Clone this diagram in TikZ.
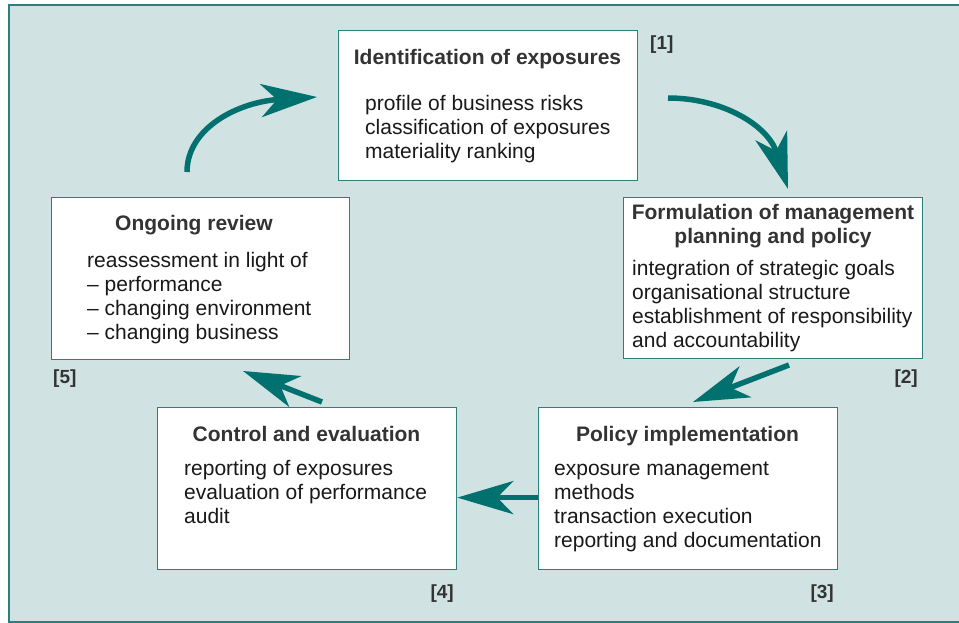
\documentclass[tikz,border=0pt]{standalone}
\usepackage{fontspec}
\setmainfont{Liberation Sans}
\usetikzlibrary{arrows.meta}
\definecolor{bgfill}{HTML}{D0E2E2}
\definecolor{tealarr}{HTML}{00716F}
\definecolor{tealline}{HTML}{2A807C}
\definecolor{txtgray}{HTML}{333333}
\tikzset{
  box/.style={draw=tealline, line width=1.2pt, fill=white, anchor=north west, inner sep=0pt, minimum width=299pt},
  boxtitle/.style={font=\fontsize{21}{24}\selectfont\bfseries, text=txtgray, align=center, anchor=base, inner sep=0pt},
  boxbody/.style={font=\fontsize{21}{24}\selectfont, text=black!90, align=left, anchor=north west, inner sep=0pt},
  tag/.style={font=\fontsize{19}{24}\selectfont\bfseries, text=txtgray, inner sep=0pt},
  flow/.style={->, draw=tealarr, line width=5.5pt},
}
\begin{document}
\begin{tikzpicture}[x=1pt, y=-1pt, >={Stealth[length=56pt, width=33pt, inset=16pt]}]
  \useasboundingbox (0,0) rectangle (959,623);
  \draw[tealline, line width=1.6pt, fill=bgfill] (9,5) rectangle (965,622);
  % the five stages
  \node[box, minimum height=150pt] (ident) at (338,30) {};
  \node[box, minimum height=161pt] (form) at (623,197) {};
  \node[box, minimum height=162pt] (impl) at (538,407) {};
  \node[box, minimum height=162pt] (ctrl) at (157,407) {};
  \node[box, minimum height=162pt, minimum width=298pt] (review) at (51,197) {};
  \node[boxtitle] (identT) at (487.5,65) {Identification of exposures};
  \node[boxbody] (identB) at (365,93.2) {\strut profile of business risks\\classification of exposures\\materiality ranking};
  \node[boxtitle, anchor=north] (formT) at (773,202.2) {\strut Formulation of management\\planning and policy};
  \node[boxbody] (formB) at (632,258.2) {\strut integration of strategic goals\\organisational structure\\establishment of responsibility\\and accountability};
  \node[boxtitle] (implT) at (687.5,441) {Policy implementation};
  \node[boxbody] (implB) at (554,458.2) {\strut exposure management\\methods\\transaction execution\\reporting and documentation};
  \node[boxtitle] (ctrlT) at (306.5,441) {Control and evaluation};
  \node[boxbody] (ctrlB) at (184,458.2) {\strut reporting of exposures\\evaluation of performance\\audit};
  \node[boxtitle] (reviewT) at (194,230) {Ongoing review};
  \node[boxbody] (reviewB) at (87,250.2) {\strut reassessment in light of\\\textendash{} performance\\\textendash{} changing environment\\\textendash{} changing business};
  % numbers
  \node[tag, anchor=base west] (n1) at (650,50) {[1]};
  \node[tag, anchor=base east] (n2) at (918,383) {[2]};
  \node[tag, anchor=base east] (n3) at (834,598) {[3]};
  \node[tag, anchor=base east] (n4) at (454,598) {[4]};
  \node[tag, anchor=base west] (n5) at (53,383) {[5]};
  % arrows
  \coordinate (c1a) at (187,172); \coordinate (c1b) at (317,97);
  \coordinate (c2a) at (668,98);  \coordinate (c2b) at (788,189);
  \coordinate (c3a) at (789,365); \coordinate (c3b) at (693,402);
  \coordinate (c5a) at (322,402); \coordinate (c5b) at (243,371);
  \draw[flow] (c1a) .. controls (187,128) and (238,102) .. (c1b);
  \draw[flow] (c2a) .. controls (722,98) and (768,125) .. (c2b);
  \draw[flow] (c3a) -- (c3b);
  \draw[flow] ([yshift=-9pt]impl.west) -- ([yshift=-9pt]ctrl.east);
  \draw[flow] (c5a) -- (c5b);
\end{tikzpicture}
\end{document}
